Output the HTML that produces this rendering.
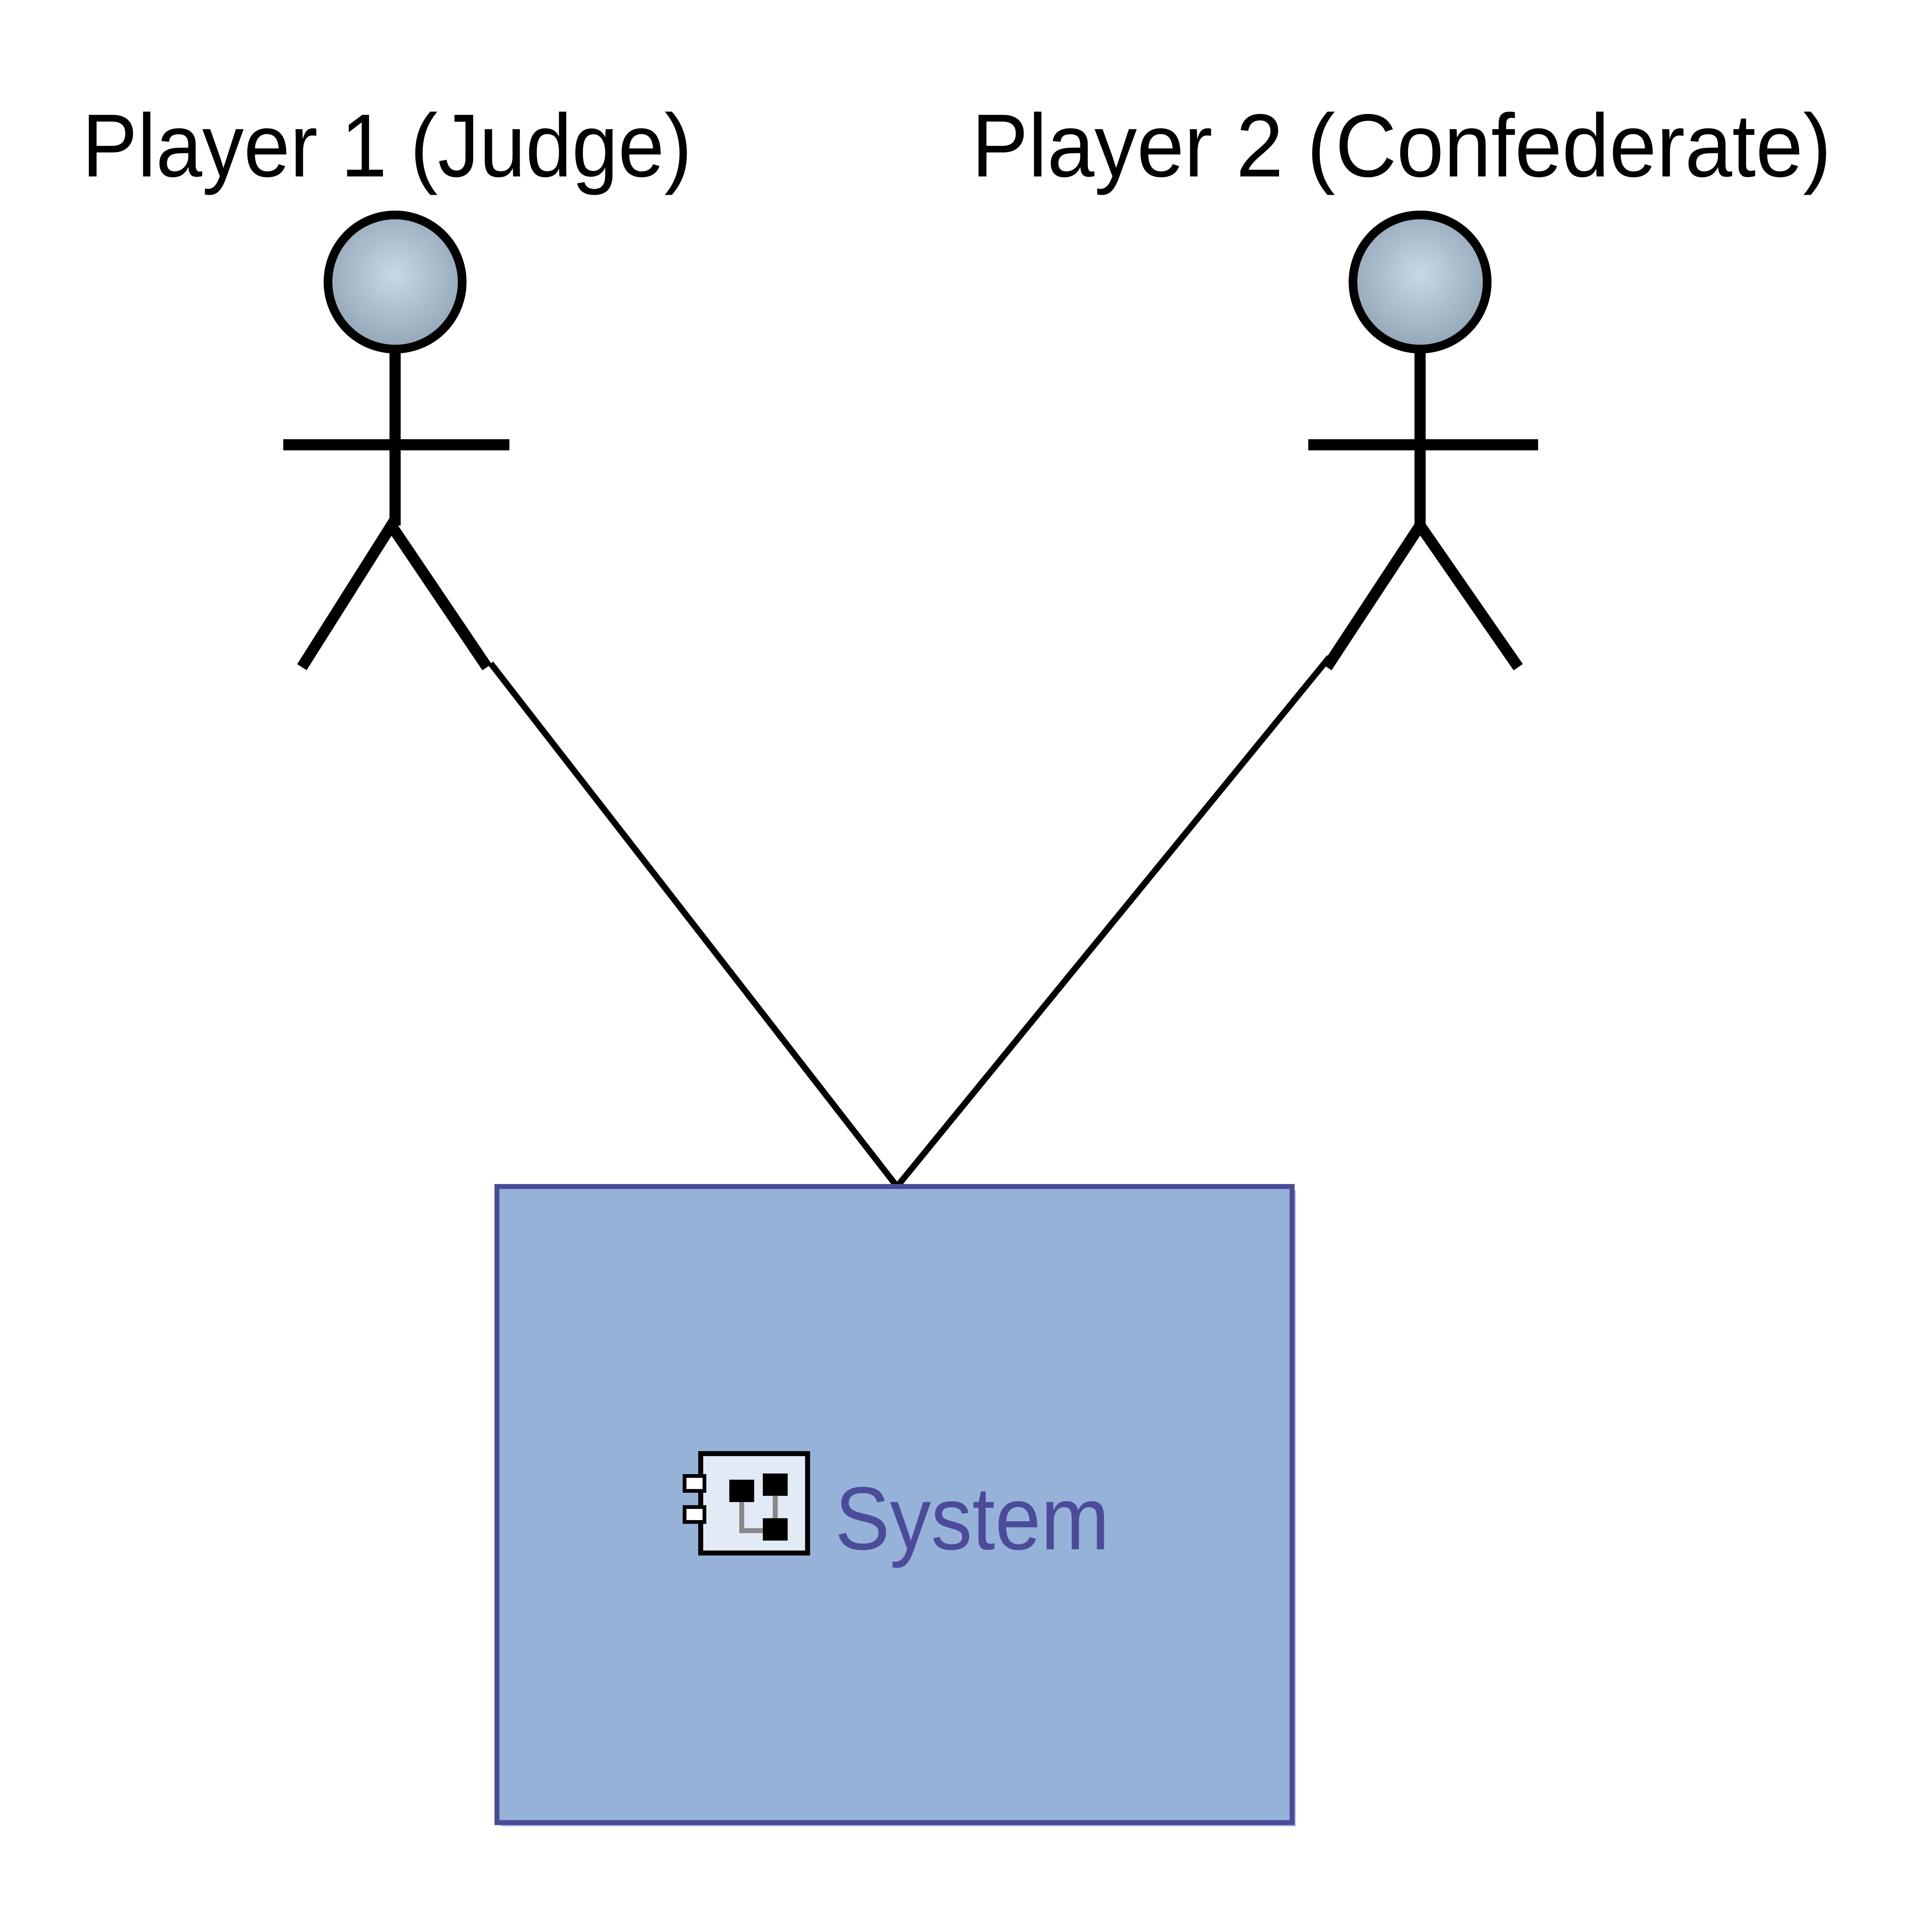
<!DOCTYPE html>
<html><head><style>html,body{margin:0;padding:0;background:#fff;overflow:hidden}svg{display:block;width:100vw;height:97.953vw}</style></head>
<body>
<svg viewBox="0 0 5763 5645" preserveAspectRatio="xMinYMin meet" xmlns="http://www.w3.org/2000/svg">
<defs>
<radialGradient id="g" cx="0.5" cy="0.45" r="0.6"><stop offset="0" stop-color="#c8d8e6"/><stop offset="1" stop-color="#8ea2b4"/></radialGradient>
</defs>
<g transform="scale(3.706)">
<text x="66" y="142" font-family="Liberation Sans, sans-serif" font-size="72" textLength="491" lengthAdjust="spacingAndGlyphs" fill="#000">Player 1 (Judge)</text>
<text x="782" y="142" font-family="Liberation Sans, sans-serif" font-size="72" textLength="692" lengthAdjust="spacingAndGlyphs" fill="#000">Player 2 (Confederate)</text>
<g stroke="#000" stroke-width="9" fill="none">
<circle cx="318" cy="227" r="54" fill="url(#g)" stroke-width="7"/>
<line x1="318" y1="282" x2="318" y2="423"/>
<line x1="228" y1="358" x2="410" y2="358"/>
<path d="M243 537 L315 423 L392 537"/>
<circle cx="1143" cy="227" r="54" fill="url(#g)" stroke-width="7"/>
<line x1="1143" y1="282" x2="1143" y2="423"/>
<line x1="1053" y1="358" x2="1238" y2="358"/>
<path d="M1068 537 L1143 423 L1222 537"/>
</g>
<g stroke="#000" stroke-width="5">
<line x1="395" y1="534" x2="722" y2="955"/>
<line x1="1070" y1="529" x2="722" y2="955"/>
</g>
<rect x="403" y="958" width="640" height="512" fill="#a9bfe6"/>
<rect x="400" y="955" width="640" height="512" fill="#96b2d9" stroke="#4a4a98" stroke-width="4"/>
<rect x="564" y="1170" width="86" height="80" fill="#e2eaf6" stroke="#000" stroke-width="4"/>
<rect x="551" y="1188" width="16" height="12" fill="#fff" stroke="#000" stroke-width="3"/>
<rect x="551" y="1213" width="16" height="12" fill="#fff" stroke="#000" stroke-width="3"/>
<rect x="587" y="1191" width="20" height="18" fill="#000"/>
<rect x="614" y="1186" width="20" height="18" fill="#000"/>
<rect x="614" y="1222" width="20" height="18" fill="#000"/>
<path d="M597 1209 V1232 H614 M624 1204 V1222" stroke="#888" stroke-width="4" fill="none"/>
<text x="672" y="1247" font-family="Liberation Sans, sans-serif" font-size="72" textLength="221" lengthAdjust="spacingAndGlyphs" fill="#4b4b9a">System</text>
</g>
</svg>
</body></html>
